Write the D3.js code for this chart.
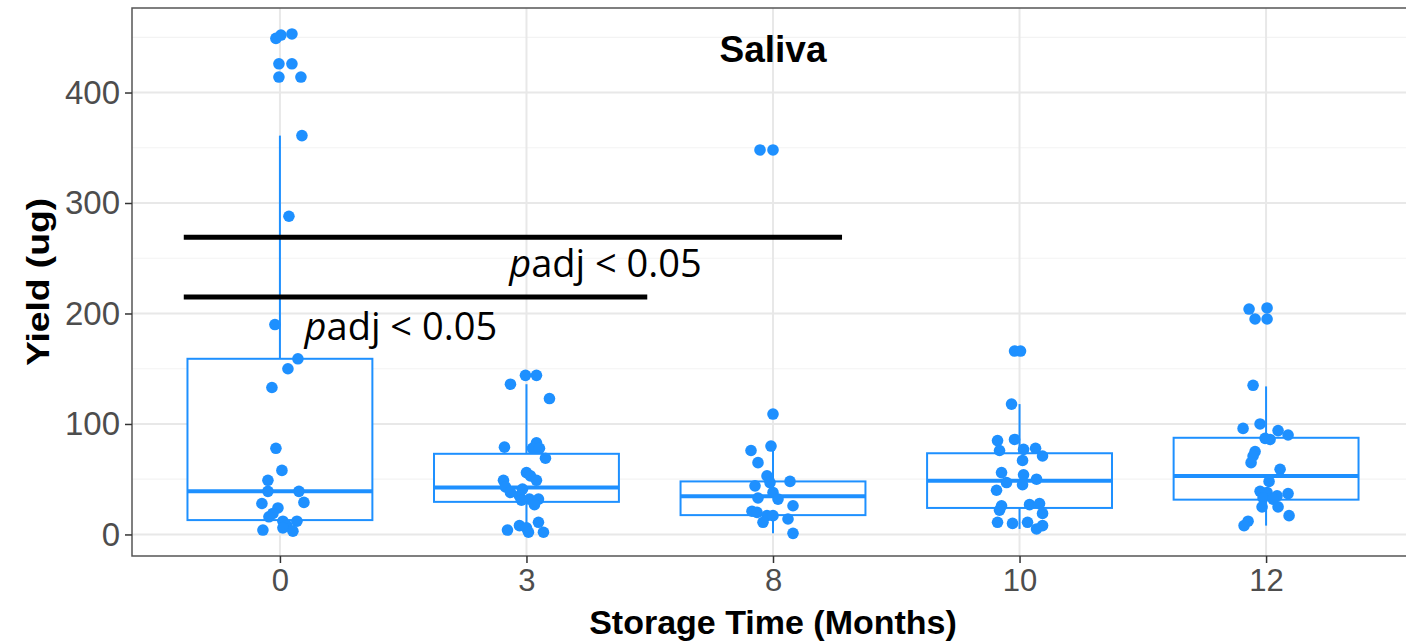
<!DOCTYPE html>
<html>
<head>
<meta charset="utf-8">
<script src="https://cdn.jsdelivr.net/npm/d3@7"></script>
<style>
  body { margin: 0; background: #fff; }
  svg { display: block; }
</style>
</head>
<body>
<div id="graph"></div>
<script>
// storage time groups
let months = ["0", "3", "8", "10", "12"];

// yield values (ug) per group, with the jitter offset (in px of a 246px step)
let yield0 = [449, 452, 453, 426, 426, 414, 414, 361, 288, 190, 159, 150, 133, 78, 58, 49, 39, 39, 29, 28, 24, 19, 16, 12, 12, 8, 6, 3, 4];
let jitter0 = [-4, 1, 12, -1, 12, -1, 21, 22, 9, -5, 18, 8, -8, -4, 2, -12, -12, 19, 24, -18, -2, -7, -11, 3, 17, 7, 3, 13, -17];
let yield3 = [144, 144, 136, 123, 83, 79, 78, 78, 69, 56, 53, 49, 49, 43, 41, 38, 35, 32, 32, 31, 27, 11, 8, 6, 4, 2, 2];
let jitter3 = [-1, 10, -16, 23, 10, -22, 6, 13, 19, 0, 4, 10, -23, -21, -4, -16, -7, 3, 12, -5, 8, 12, -7, 0, -19, 2, 17];
let yield8 = [348, 348, 109, 80, 76, 65, 53, 48, 44, 47, 38, 33, 32, 26, 21, 20, 17, 17, 14, 11, 1];
let jitter8 = [-13, 0, 0, -2, -22, -15, -6, 17, -18, -3, 0, -15, 5, 20, -21, -16, -6, 0, 15, -10, 20];
let yield10 = [166, 166, 118, 85, 86, 76, 77, 78, 71, 67, 56, 54, 50, 47, 45, 40, 26, 22, 27, 28, 19, 11, 10, 11, 5, 8];
let jitter10 = [-5, 1, -8, -22, -5, -20, 4, 16, 23, 3, -18, 4, 17, -13, 3, -23, -18, -20, 10, 20, 23, -22, -7, 8, 17, 23];
let yield12 = [204, 205, 195, 195, 135, 96, 100, 94, 90, 87, 86, 75, 71, 65, 59, 48, 39, 38, 35, 37, 33, 32, 25, 25, 17, 12, 8];
let jitter12 = [-17, 1, -11, 1, -13, -23, -6, 12, 22, -1, 4, -11, -13, -15, 14, 3, -6, 1, 11, 22, -3, 7, -4, 12, 23, -18, -22];

// box stats: lower whisker, Q1, median, Q3, upper whisker
let lowerW = [2, 0.5, 1, 5, 8];
let q1 = [13, 29.5, 17.5, 24, 31.5];
let med = [39, 42.5, 34.5, 48.5, 53];
let q3 = [159, 73, 48, 73.5, 87.5];
let upperW = [361, 136, 80, 118, 134];

let yTicks = [0, 100, 200, 300, 400];
let yMinor = [50, 150, 250, 350, 450];

// significance brackets: [start, end] in category steps from group 0, y value, label position
let sigFrom = [-0.39, -0.39];
let sigTo = [2.28, 1.49];
let sigY = [269, 215];
let sigLabelX = [0.93, 0.1];
let sigLabelY = [233, 176];

let W = 1406, H = 641;
let panel = { left: 132, right: 1414, top: 8, bottom: 556 };
let blue = "#1e90ff";

let svg = d3.select("#graph").append("svg").attr("width", W).attr("height", H);

let x = d3.scalePoint().domain(months).range([panel.left, panel.right]).padding(0.6);
let step = x.step();
let y = d3.scaleLinear().domain([-19.5, 476.5]).range([panel.bottom, panel.top]);

// grid
let g = svg.append("g");
g.selectAll(".minor").data(yMinor).enter().append("line")
    .attr("x1", panel.left).attr("x2", panel.right)
    .attr("y1", d => y(d)).attr("y2", d => y(d))
    .attr("stroke", "#f3f3f3").attr("stroke-width", 1.2);
g.selectAll(".major").data(yTicks).enter().append("line")
    .attr("x1", panel.left).attr("x2", panel.right)
    .attr("y1", d => y(d)).attr("y2", d => y(d))
    .attr("stroke", "#e8e8e8").attr("stroke-width", 2);
g.selectAll(".vmajor").data(months).enter().append("line")
    .attr("x1", d => x(d)).attr("x2", d => x(d))
    .attr("y1", panel.top).attr("y2", panel.bottom)
    .attr("stroke", "#e8e8e8").attr("stroke-width", 2);

// boxes
let boxes = months.map(function(m, i) {
    return { m: m, lo: lowerW[i], q1: q1[i], med: med[i], q3: q3[i], hi: upperW[i] };
});
let bw = step * 0.75;
let box = svg.append("g").selectAll("g").data(boxes).enter().append("g");
box.append("line")
    .attr("x1", d => x(d.m)).attr("x2", d => x(d.m))
    .attr("y1", d => y(d.hi)).attr("y2", d => y(d.q3))
    .attr("stroke", blue).attr("stroke-width", 2);
box.append("line")
    .attr("x1", d => x(d.m)).attr("x2", d => x(d.m))
    .attr("y1", d => y(d.q1)).attr("y2", d => y(d.lo))
    .attr("stroke", blue).attr("stroke-width", 2);
box.append("rect")
    .attr("x", d => x(d.m) - bw / 2).attr("width", bw)
    .attr("y", d => y(d.q3)).attr("height", d => y(d.q1) - y(d.q3))
    .attr("fill", "#fff").attr("stroke", blue).attr("stroke-width", 2);
box.append("line")
    .attr("x1", d => x(d.m) - bw / 2).attr("x2", d => x(d.m) + bw / 2)
    .attr("y1", d => y(d.med)).attr("y2", d => y(d.med))
    .attr("stroke", blue).attr("stroke-width", 4);

// points
let groups = [[yield0, jitter0], [yield3, jitter3], [yield8, jitter8], [yield10, jitter10], [yield12, jitter12]];
let pts = [];
groups.forEach(function(gr, i) {
    gr[0].forEach(function(v, j) {
        pts.push({ m: months[i], v: v, j: gr[1][j] / 246.5 });
    });
});
svg.append("g").selectAll("circle").data(pts).enter().append("circle")
    .attr("cx", d => x(d.m) + d.j * step)
    .attr("cy", d => y(d.v))
    .attr("r", 5.8)
    .attr("fill", blue);

// significance lines and labels
let sig = sigY.map(function(v, i) {
    return { a: sigFrom[i], b: sigTo[i], v: v, lx: sigLabelX[i], ly: sigLabelY[i] };
});
svg.append("g").selectAll("line").data(sig).enter().append("line")
    .attr("x1", d => x("0") + d.a * step).attr("x2", d => x("0") + d.b * step)
    .attr("y1", d => y(d.v)).attr("y2", d => y(d.v))
    .attr("stroke", "#000").attr("stroke-width", 5);
let lab = svg.append("g").selectAll("text").data(sig).enter().append("text")
    .attr("x", d => x("0") + d.lx * step)
    .attr("y", d => y(d.ly))
    .attr("font-family", "Open Sans")
    .attr("font-size", 38)
    .attr("fill", "#000");
lab.append("tspan").attr("font-style", "italic").text("p");
lab.append("tspan").text("adj < 0.05");

// panel border
svg.append("rect")
    .attr("x", panel.left).attr("y", panel.top)
    .attr("width", panel.right - panel.left).attr("height", panel.bottom - panel.top)
    .attr("fill", "none").attr("stroke", "#555").attr("stroke-width", 1.5);

// axes
let yAxis = svg.append("g")
    .attr("transform", "translate(" + panel.left + ",0)")
    .call(d3.axisLeft(y).tickValues(yTicks).tickSize(7).tickPadding(5));
let xAxis = svg.append("g")
    .attr("transform", "translate(0," + panel.bottom + ")")
    .call(d3.axisBottom(x).tickSize(7).tickPadding(6));
[yAxis, xAxis].forEach(function(a) {
    a.select(".domain").remove();
    a.selectAll(".tick line").attr("stroke", "#333").attr("stroke-width", 1.5);
    a.selectAll(".tick text")
        .attr("fill", "#4d4d4d")
        .attr("font-family", "Liberation Sans, Arial, sans-serif");
});
yAxis.selectAll(".tick text").attr("font-size", 33);
xAxis.selectAll(".tick text").attr("font-size", 31);

// titles
svg.append("text")
    .attr("x", x("8")).attr("y", 62)
    .attr("text-anchor", "middle")
    .attr("font-family", "Liberation Sans, Arial, sans-serif")
    .attr("font-weight", "bold").attr("font-size", 37)
    .text("Saliva");
svg.append("text")
    .attr("x", x("8")).attr("y", 634)
    .attr("text-anchor", "middle")
    .attr("font-family", "Liberation Sans, Arial, sans-serif")
    .attr("font-weight", "bold").attr("font-size", 34)
    .text("Storage Time (Months)");
svg.append("text")
    .attr("transform", "translate(49," + ((panel.top + panel.bottom) / 2) + ") rotate(-90) scale(1.2,1)")
    .attr("text-anchor", "middle")
    .attr("font-family", "Liberation Sans, Arial, sans-serif")
    .attr("font-weight", "bold").attr("font-size", 31)
    .text("Yield (ug)");
</script>
</body>
</html>
